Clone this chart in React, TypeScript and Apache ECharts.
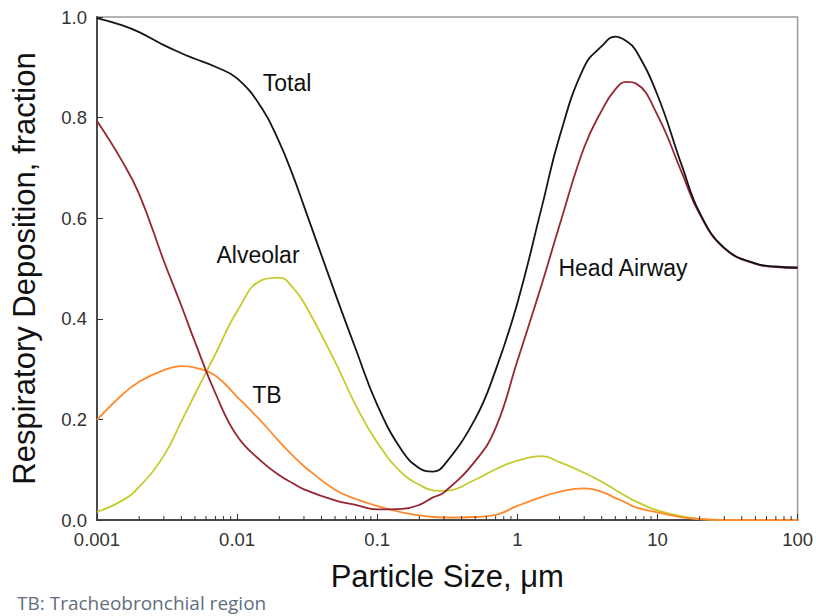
import React, { useEffect, useRef } from "react";
import * as echarts from "echarts";

// Particle sizes (µm)
const sizes = [0.001, 0.0015, 0.002, 0.003, 0.004, 0.005, 0.007, 0.01, 0.015, 0.02, 0.025, 0.03, 0.05, 0.07, 0.1, 0.15, 0.2, 0.25, 0.3, 0.5, 0.7, 1, 1.5, 2, 3, 4, 5, 6, 7, 10, 15, 20, 30, 50, 70, 100];

const totalDep = [0.998, 0.984, 0.970, 0.944, 0.928, 0.917, 0.901, 0.878, 0.819, 0.751, 0.685, 0.624, 0.451, 0.341, 0.229, 0.138, 0.103, 0.096, 0.109, 0.201, 0.298, 0.431, 0.624, 0.762, 0.901, 0.942, 0.961, 0.952, 0.934, 0.845, 0.703, 0.611, 0.541, 0.510, 0.504, 0.502];
const headAirway = [0.793, 0.715, 0.648, 0.515, 0.426, 0.354, 0.252, 0.167, 0.116, 0.089, 0.073, 0.061, 0.039, 0.030, 0.021, 0.022, 0.030, 0.045, 0.055, 0.117, 0.183, 0.316, 0.470, 0.586, 0.741, 0.814, 0.856, 0.871, 0.868, 0.805, 0.689, 0.608, 0.540, 0.509, 0.503, 0.501];
const tracheobronchial = [0.199, 0.248, 0.275, 0.298, 0.306, 0.303, 0.287, 0.245, 0.195, 0.156, 0.128, 0.107, 0.060, 0.042, 0.028, 0.015, 0.009, 0.006, 0.005, 0.006, 0.010, 0.028, 0.046, 0.056, 0.063, 0.056, 0.044, 0.034, 0.025, 0.015, 0.005, 0.002, 0, 0, 0, 0];
const alveolar = [0.016, 0.038, 0.066, 0.128, 0.196, 0.250, 0.330, 0.415, 0.477, 0.482, 0.462, 0.432, 0.315, 0.229, 0.154, 0.093, 0.070, 0.059, 0.058, 0.080, 0.101, 0.118, 0.127, 0.115, 0.094, 0.076, 0.060, 0.047, 0.037, 0.019, 0.007, 0.002, 0, 0, 0, 0];

const xTickValues = [0.001, 0.01, 0.1, 1, 10, 100];
const xTickLabels = ["0.001", "0.01", "0.1", "1", "10", "100"];
const yTickLabels = ["0.0", "0.2", "0.4", "0.6", "0.8", "1.0"];
const minorDecades = [0.001, 0.01, 0.1, 1, 10];
const minorMultipliers = [2, 3, 4, 5, 6, 7, 8, 9];

const seriesNames = ["Total", "Head Airway", "TB", "Alveolar"];
const seriesColors = ["#151515", "#962631", "#ff8a2e", "#c6cb2c"];

export default function App() {
  const ref = useRef<HTMLDivElement>(null);

  useEffect(() => {
    document.body.style.margin = "0";
    if (!ref.current) return;
    const chart = echarts.init(ref.current, undefined, { renderer: "svg" });

    const minorTicks: number[][] = [];
    minorDecades.forEach((d) => minorMultipliers.forEach((m) => minorTicks.push([m * d, 0])));

    const seriesData = [totalDep, headAirway, tracheobronchial, alveolar];
    const font = "Liberation Sans, Arial, sans-serif";

    const lineSeries = seriesData.map((vals, i) => ({
      name: seriesNames[i],
      type: "line",
      data: sizes.map((s, j) => [s, vals[j]]),
      smooth: 0.45,
      showSymbol: false,
      symbol: "none",
      lineStyle: { color: seriesColors[i], width: 1.8 },
      itemStyle: { color: seriesColors[i] },
      z: 4 - i,
    }));

    chart.setOption({
      animation: false,
      grid: {
        left: 97,
        right: 17,
        top: 17,
        bottom: 96,
        show: true,
        borderColor: "#9a9a9a",
        borderWidth: 1.5,
        backgroundColor: "transparent",
      },
      xAxis: {
        type: "log",
        logBase: 10,
        min: 0.001,
        max: 100,
        name: "Particle Size, μm",
        nameLocation: "middle",
        nameGap: 41,
        nameTextStyle: { fontFamily: font, fontSize: 31, color: "#111" },
        axisLine: { show: true, lineStyle: { color: "#4a4a4a", width: 2 } },
        axisTick: { show: true, inside: true, length: 6, lineStyle: { color: "#333" } },
        axisLabel: {
          fontFamily: font,
          fontSize: 18.5,
          color: "#333",
          margin: 10,
          formatter: (v: number) => {
            let best = 0;
            xTickValues.forEach((t, i) => {
              if (Math.abs(Math.log10(t) - Math.log10(v)) < Math.abs(Math.log10(xTickValues[best]) - Math.log10(v))) best = i;
            });
            return xTickLabels[best];
          },
        },
        splitLine: { show: false },
      },
      yAxis: {
        type: "value",
        min: 0,
        max: 1,
        interval: 0.2,
        name: "Respiratory Deposition, fraction",
        nameLocation: "middle",
        nameGap: 57,
        nameTextStyle: { fontFamily: font, fontSize: 31, color: "#111" },
        axisLine: { show: true, lineStyle: { color: "#4a4a4a", width: 2 } },
        axisTick: { show: true, inside: true, length: 6, lineStyle: { color: "#333" } },
        axisLabel: {
          fontFamily: font,
          fontSize: 18.5,
          color: "#333",
          margin: 10,
          formatter: (v: number) => yTickLabels[Math.round(v / 0.2)],
        },
        splitLine: { show: false },
      },
      series: [
        ...lineSeries,
        {
          type: "custom",
          name: "minorTicks",
          data: minorTicks,
          encode: { x: 0, y: 1 },
          silent: true,
          clip: false,
          z: 10,
          renderItem: (params: any, api: any) => {
            const p = api.coord([api.value(0), 0]);
            return {
              type: "line",
              shape: { x1: p[0], y1: p[1], x2: p[0], y2: p[1] - 4 },
              style: { stroke: "#333", lineWidth: 1 },
            };
          },
        },
      ],
      graphic: [
        { type: "text", x: 287, y: 83, style: { text: "Total", font: `23px ${font}`, fill: "#111", align: "center", verticalAlign: "middle" } },
        { type: "text", x: 258, y: 255, style: { text: "Alveolar", font: `23px ${font}`, fill: "#111", align: "center", verticalAlign: "middle" } },
        { type: "text", x: 267, y: 395, style: { text: "TB", font: `23px ${font}`, fill: "#111", align: "center", verticalAlign: "middle" } },
        { type: "text", x: 623, y: 268, style: { text: "Head Airway", font: `23px ${font}`, fill: "#111", align: "center", verticalAlign: "middle" } },
        { type: "text", x: 17, y: 603, style: { text: "TB: Tracheobronchial region", font: `19px "Open Sans", sans-serif`, fill: "#5f6e7e", align: "left", verticalAlign: "middle" } },
      ],
    });

    return () => chart.dispose();
  }, []);

  return <div ref={ref} style={{ width: 816, height: 616 }} />;
}
